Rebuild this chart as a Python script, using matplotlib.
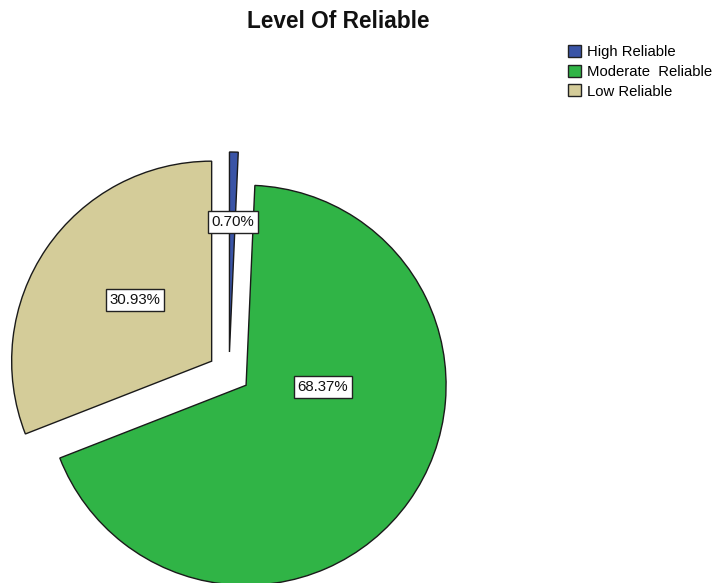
import matplotlib
matplotlib.use("Agg")
import matplotlib.pyplot as plt
from matplotlib.patches import Patch

plt.rcParams['font.family'] = ['Liberation Sans', 'DejaVu Sans']

categories = ["High Reliable", "Moderate  Reliable", "Low Reliable"]
percentages = [0.70, 68.37, 30.93]
colors = ["#3a54a6", "#30b446", "#d4cc99"]
explode = [0.105, 0.105, 0.105]

# label anchor points (relative to pie centre, in radius units)
label_pos = [(0.02, 0.755), (0.47, -0.07), (-0.47, 0.365)]

W, H = 714, 583
fig = plt.figure(figsize=(W / 100, H / 100), dpi=100)
ax = fig.add_axes([0, 0, 1, 1])

R_PX = 200.0
cx_px, cy_px = 229.0, 373.0

wedges, _ = ax.pie(percentages, colors=colors, explode=explode,
                   startangle=90, counterclock=False, radius=1.0,
                   wedgeprops=dict(edgecolor="#1a1a1a", linewidth=1.0))

for pct, (lx, ly) in zip(percentages, label_pos):
    ax.text(lx, ly, f"{pct:.2f}%", ha="center", va="center", fontsize=10.8,
            color="#111111",
            bbox=dict(boxstyle="square,pad=0.25", facecolor="white",
                      edgecolor="#222222", linewidth=1.0))

ax.set_xlim(-cx_px / R_PX, (W - cx_px) / R_PX)
ax.set_ylim(-(H - cy_px) / R_PX, cy_px / R_PX)
ax.set_aspect("equal", adjustable="box")
ax.axis("off")

fig.text(338 / W, 1 - 22 / H, "Level Of Reliable", ha="center", va="center",
         fontsize=16.3, fontweight="bold", color="#111111")

handles = [Patch(facecolor=c, edgecolor="#222222", linewidth=1.0) for c in colors]
fig.legend(handles, categories, loc="upper left",
           bbox_to_anchor=(568 / W, 1 - 45 / H), frameon=False, fontsize=10.7,
           handlelength=0.85, handleheight=0.85, handletextpad=0.45,
           labelspacing=0.38, borderpad=0.0, borderaxespad=0.0)

fig.savefig("out.png", dpi=100, facecolor="white")
